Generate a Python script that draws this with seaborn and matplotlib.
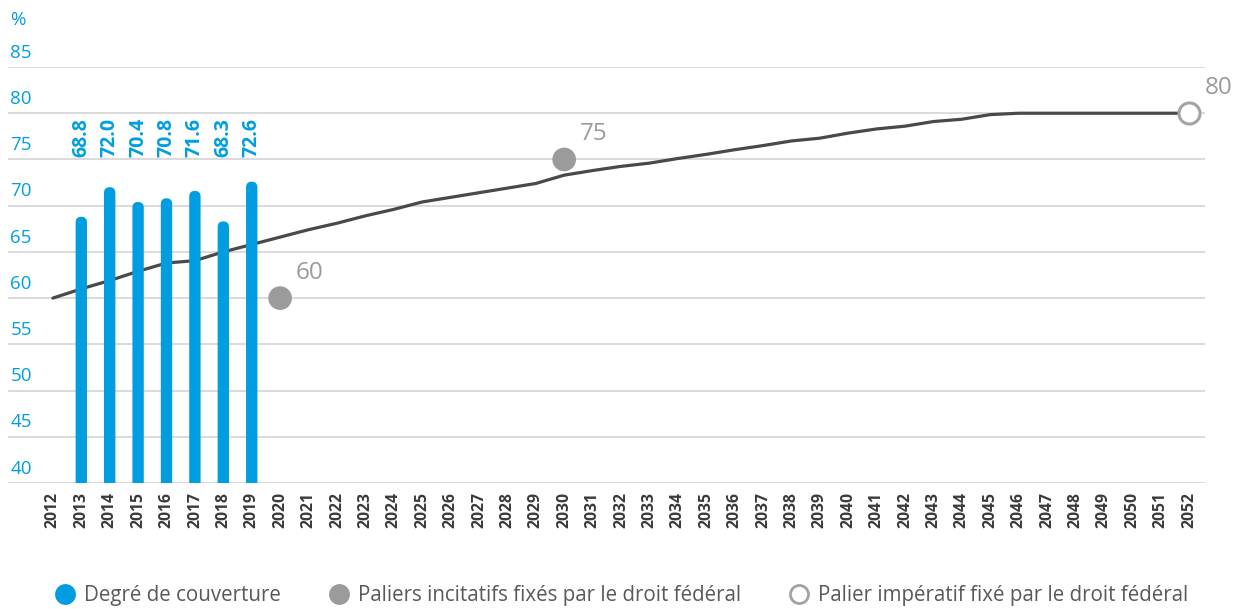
import matplotlib
matplotlib.use("Agg")
import matplotlib.pyplot as plt
import matplotlib.transforms as mtransforms
from matplotlib.patches import FancyBboxPatch
from matplotlib.lines import Line2D
import seaborn as sns

# funding ratio (bars)
bar_years = [2013, 2014, 2015, 2016, 2017, 2018, 2019]
coverage = [68.8, 72.0, 70.4, 70.8, 71.6, 68.3, 72.6]

# planned path (line)
path_years = list(range(2012, 2053))
path_values = [60.0, 61.0, 61.9, 62.9, 63.8, 64.05, 65.0, 65.8, 66.6, 67.4,
               68.1, 68.9, 69.6, 70.4, 70.9, 71.4, 71.9, 72.4, 73.3, 73.8,
               74.25, 74.6, 75.1, 75.55, 76.05, 76.5, 77.0, 77.3, 77.85, 78.3,
               78.6, 79.1, 79.35, 79.85, 80.0, 80.0, 80.0, 80.0, 80.0, 80.0, 80.0]

# milestones
incentive_years = [2020, 2030]
incentive_values = [60, 75]
mandatory_years = [2052]
mandatory_values = [80]

y_ticks = [40, 45, 50, 55, 60, 65, 70, 75, 80, 85]
legend_labels = ["Degré de couverture",
                 "Paliers incitatifs fixés par le droit fédéral",
                 "Palier impératif fixé par le droit fédéral"]

BLUE = "#009ee0"
LINE = "#494949"
GREY = "#9b9b9b"
GRID = "#d8d8d8"
TXT = "#595959"

sns.set_style("white")
plt.rcParams["font.family"] = ["Open Sans", "DejaVu Sans"]

W, H = 1244, 609
fig = plt.figure(figsize=(W / 100, H / 100), dpi=100)
ax = fig.add_axes([8 / W, 1 - 483 / H, (1205 - 8) / W, (483 - 67) / H])

sns.barplot(x=bar_years, y=coverage, native_scale=True, width=0.4,
            color=BLUE, saturation=1, errorbar=None, ax=ax, zorder=3)
sns.lineplot(x=path_years, y=path_values, color=LINE, lw=2.3, ax=ax, zorder=2)

xmin, xmax = 2010.42, 2052.56
ymin, ymax = 40, 85
ax.set_xlim(xmin, xmax)
ax.set_ylim(ymin, ymax)

# rounded bar tops
ppx = ax.get_position().width * W / (xmax - xmin)
ppy = ax.get_position().height * H / (ymax - ymin)
aspect = ppx / ppy
for p in list(ax.patches):
    x, w, h = p.get_x(), p.get_width(), p.get_height()
    rp = FancyBboxPatch((x, 0), w, h, boxstyle=f"round,pad=0,rounding_size={w / 2}",
                        mutation_aspect=aspect, facecolor=BLUE, edgecolor="none", zorder=3)
    p.remove()
    ax.add_patch(rp)

sns.scatterplot(x=incentive_years, y=incentive_values, s=290, color=GREY,
                edgecolor="none", ax=ax, zorder=4, clip_on=False)
sns.scatterplot(x=mandatory_years, y=mandatory_values, s=230, facecolor="white",
                edgecolor="#a3a3a3", linewidth=2.2, ax=ax, zorder=4, clip_on=False)

for yr, v in zip(incentive_years + mandatory_years, incentive_values + mandatory_values):
    ax.annotate(f"{v}", (yr, v), xytext=(11.5, 18), textcoords="offset points",
                ha="left", va="center", color=GREY, fontsize=17.5, annotation_clip=False)

for yr, v in zip(bar_years, coverage):
    ax.text(yr, 75.3, f"{v:.1f}", rotation=90, ha="center", va="bottom",
            color=BLUE, fontsize=14, fontweight="bold")

# grid and y labels
ax.set_yticks(y_ticks)
ax.set_yticklabels([])
ax.grid(axis="y", color=GRID, lw=1.3)
ax.grid(axis="x", visible=False)
trans = mtransforms.blended_transform_factory(ax.transAxes, ax.transData)
for v in y_ticks:
    ax.text(0.002, v + 1.55, str(v), transform=trans, ha="left", va="center",
            color=BLUE, fontsize=13.5)
ax.text(0.002, 90.1, "%", transform=trans, ha="left", va="center",
        color=BLUE, fontsize=13.5, clip_on=False)

ax.set_xticks(path_years)
ax.set_xticklabels([str(y) for y in path_years], rotation=90, fontweight="bold",
                   fontsize=11.3, color="#3a3a3a")
ax.tick_params(axis="both", length=0)
ax.tick_params(axis="x", pad=6.5)
ax.set_xlabel("")
ax.set_ylabel("")
for s in ax.spines.values():
    s.set_visible(False)

handles = [
    Line2D([], [], marker="o", ls="none", markersize=15, markerfacecolor=BLUE, markeredgecolor="none"),
    Line2D([], [], marker="o", ls="none", markersize=15, markerfacecolor=GREY, markeredgecolor="none"),
    Line2D([], [], marker="o", ls="none", markersize=13, markerfacecolor="white",
           markeredgecolor="#a3a3a3", markeredgewidth=2),
]
leg = fig.legend(handles, legend_labels, loc="lower center", bbox_to_anchor=(0.5, -0.025),
                 ncol=3, frameon=False, fontsize=14.8, handlelength=0.9, handletextpad=0.45,
                 columnspacing=2.4)
for t in leg.get_texts():
    t.set_color(TXT)

fig.savefig("out.png", dpi=100)
